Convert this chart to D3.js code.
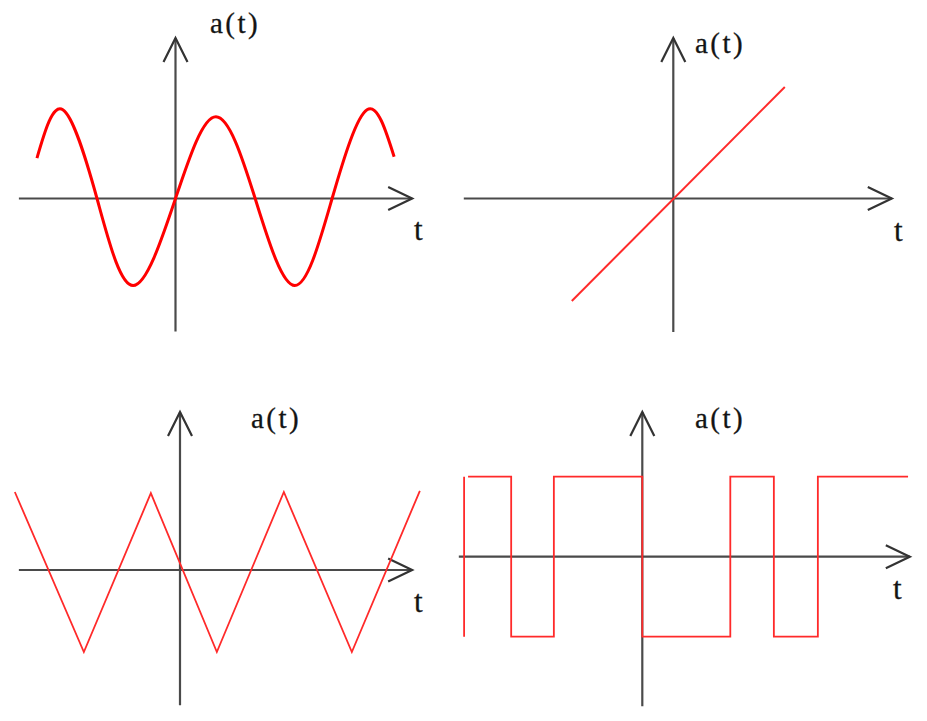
<!DOCTYPE html>
<html>
<head>
<meta charset="utf-8">
<script src="https://cdn.jsdelivr.net/npm/d3@7"></script>
<style>
  html, body { margin: 0; padding: 0; background: #fff; }
  svg { display: block; }
</style>
</head>
<body>
<svg id="chart" width="927" height="721"></svg>
<script>
// ---------- data ----------
const yLabel = "a(t)";
const xLabel = "t";

// panel 1 : sine wave (key points: ends, peaks, zeros, troughs)
const sineT = [-3.53, -2.87, -2.0, -1.08, 0, 1.03, 2.03, 3.04, 3.99, 4.88, 5.57];
const sineA = [0.465, 1.02, 0, -1.0, 0, 0.94, 0, -1.0, 0, 1.02, 0.48];

// panel 2 : ramp a(t) = t
const rampT = [-2.03, 2.23];
const rampA = [-2.05, 2.23];

// panel 3 : triangle wave vertices
const triT = [-4.93, -2.87, -0.87, 1.10, 3.10, 5.13, 7.16];
const triA = [0.975, -1.025, 0.96, -1.025, 0.975, -1.025, 0.99];

// panel 4 : square wave vertices (null = pen lifted)
const squareT = [-4.05, -4.05, null, -3.96, -2.98, -2.98, -2.01, -2.01, 0, 0, 2.0, 2.0, 2.99, 2.99, 3.99, 3.99, 6.04];
const squareA = [-1, 1, null, 1, 1, -1, -1, 1, 1, -1, -1, 1, 1, -1, -1, 1, 1];

// axis extents in data units [tMin, tMax(arrow tip)], [aMin, aMax(arrow tip)]
const axisT = [[-3.99, 6.03], [-4.19, 4.37], [-4.81, 6.93], [-4.17, 6.08]];
const axisA = [[-1.53, 1.845], [-2.67, 3.21], [-1.69, 1.975], [-1.87, 1.81]];

// ---------- layout ----------
const panels = [
  { ox: 175.5, oy: 198.5, ux: 39.25, uy: 87, t: sineT, a: sineA, curve: d3.curveNatural, width: 3, color: "#ff0000",
    yl: [210, 33], xl: [414, 240] },
  { ox: 673.3, oy: 198.5, ux: 50, uy: 50, t: rampT, a: rampA, curve: d3.curveLinear, width: 2, color: "#ff2a2a",
    yl: [695, 53], xl: [894, 241] },
  { ox: 180, oy: 570, ux: 33.5, uy: 80, t: triT, a: triA, curve: d3.curveLinear, width: 1.8, color: "#ff2a2a",
    yl: [251, 428], xl: [414, 612] },
  { ox: 642.3, oy: 556.7, ux: 44, uy: 80, t: squareT, a: squareA, curve: d3.curveLinear, width: 1.8, color: "#ff2a2a",
    yl: [695, 428], xl: [893, 599] }
];

const svg = d3.select("#chart");
const axisColor = "#4a4a4a";
const fontFam = "'Liberation Serif', 'Times New Roman', serif";

panels.forEach((p, i) => {
  const x = d3.scaleLinear().domain([0, 1]).range([p.ox, p.ox + p.ux]);
  const y = d3.scaleLinear().domain([0, 1]).range([p.oy, p.oy - p.uy]);
  const g = svg.append("g");

  const [t0, t1] = axisT[i];
  const [a0, a1] = axisA[i];

  // horizontal axis
  g.append("line")
    .attr("x1", x(t0)).attr("x2", x(t1))
    .attr("y1", y(0)).attr("y2", y(0))
    .attr("stroke", axisColor).attr("stroke-width", 2.2);
  // vertical axis
  g.append("line")
    .attr("x1", x(0)).attr("x2", x(0))
    .attr("y1", y(a0)).attr("y2", y(a1))
    .attr("stroke", axisColor).attr("stroke-width", 2.2);

  // arrowheads (open chevrons)
  const tipX = x(t1), tipY = y(0);
  g.append("path")
    .attr("d", `M${tipX - 24},${tipY - 11.5} L${tipX},${tipY} L${tipX - 24},${tipY + 11.5}`)
    .attr("fill", "none").attr("stroke", "#333").attr("stroke-width", 2.2);
  const vX = x(0), vY = y(a1);
  g.append("path")
    .attr("d", `M${vX - 12},${vY + 24} L${vX},${vY} L${vX + 12},${vY + 24}`)
    .attr("fill", "none").attr("stroke", "#333").attr("stroke-width", 2.2);

  // signal
  const pts = p.t.map((tv, k) => [tv, p.a[k]]);
  const line = d3.line()
    .defined(d => d[0] !== null && d[1] !== null)
    .x(d => x(d[0])).y(d => y(d[1]))
    .curve(p.curve);
  g.append("path")
    .attr("d", line(pts))
    .attr("fill", "none")
    .attr("stroke", p.color)
    .attr("stroke-width", p.width)
    .attr("stroke-linejoin", "miter");

  // labels
  g.append("text")
    .attr("x", p.yl[0]).attr("y", p.yl[1])
    .attr("font-family", fontFam)
    .attr("font-size", 29)
    .attr("letter-spacing", 2.5)
    .attr("fill", "#141414")
    .attr("stroke", "#141414").attr("stroke-width", 0.3)
    .text(yLabel);
  g.append("text")
    .attr("x", p.xl[0]).attr("y", p.xl[1])
    .attr("font-family", fontFam)
    .attr("font-size", 31)
    .attr("fill", "#141414")
    .attr("stroke", "#141414").attr("stroke-width", 0.3)
    .text(xLabel);
});
</script>
</body>
</html>
